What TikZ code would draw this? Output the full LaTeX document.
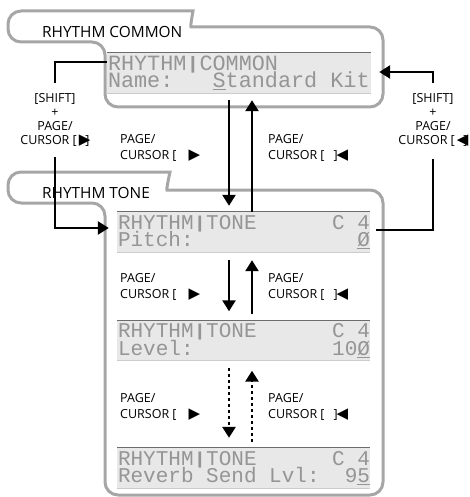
\documentclass[tikz,border=0pt]{standalone}
\usepackage{fontspec}
\setmainfont{Open Sans}
\newfontfamily\lcdfont{Liberation Mono}
\newfontfamily\symfont{DejaVu Sans}
\usetikzlibrary{arrows.meta}

\definecolor{grpgray}{HTML}{A6A6A6}
\definecolor{lcdfill}{HTML}{E8E8E8}
\definecolor{lcdtext}{HTML}{959595}

\newcommand{\lcdbar}{\makebox[0.6em]{\symfont\scalebox{0.35}[1.0]{▮}}}
\newcommand{\rtri}{{\symfont\fontsize{15}{15}\selectfont ▶}}
\newcommand{\ltri}{{\symfont\fontsize{15}{15}\selectfont ◀}}

\tikzset{
  grp/.style={draw=grpgray, line width=3pt, rounded corners=13pt},
  lcd/.style={fill=lcdfill, inner sep=0pt, minimum width=253pt, minimum height=40pt},
  lcdline/.style={anchor=base west, inner sep=0pt, text=lcdtext, font=\lcdfont\fontsize{21}{21}\selectfont},
  tab/.style={anchor=base west, inner sep=0pt, font=\fontsize{15.4}{18}\selectfont},
  key/.style={inner sep=0pt, align=center, anchor=north, font=\fontsize{12.5}{14.2}\selectfont},
  keyl/.style={inner sep=0pt, align=left, anchor=north west, font=\fontsize{12.5}{16}\selectfont},
  arr/.style={line width=2.5pt, -{Triangle[width=13pt,length=11pt]}},
  link/.style={line width=2.5pt},
  dots/.style={dash pattern=on 3pt off 3pt, line width=2.8pt},
}

\begin{document}
\begin{tikzpicture}[x=1pt, y=-1pt]
\useasboundingbox (0,0) rectangle (470,497);

% the two groups
\draw[grp] (105,70) -- (105,42) -- (8,42) -- (8,11) -- (180,11) .. controls (193,11) and (190,27) .. (204,27) -- (383,27) -- (383,107) -- (105,107) -- cycle;
\draw[grp] (105,260) -- (105,203) -- (8,203) -- (8,172) -- (157,172) .. controls (170,172) and (166,190) .. (180,190) -- (383,190) -- (383,495) -- (105,495) -- cycle;
\node[tab] (tabc) at (42,38) {RHYTHM COMMON};
\node[tab] (tabt) at (42,198) {RHYTHM TONE};

% displays
\node[lcd, minimum width=264pt] (c1) at (239,73) {};
\node[lcd] (t1) at (243.5,232) {};
\node[lcd] (t2) at (243.5,340.5) {};
\node[lcd] (t3) at (243.5,468) {};
\foreach \c in {c1,t1,t2,t3} {
  \draw[gray!85!black, line width=0.8pt] (\c.north west) -- (\c.north east);
  \draw[gray!40, line width=0.8pt] (\c.south west) -- (\c.south east);
}
\node[lcdline, font=\lcdfont\fontsize{21.8}{21.8}\selectfont] (c1a) at ([shift={(1,17.5)}]c1.north west) {RHYTHM\lcdbar COMMON};
\node[lcdline, font=\lcdfont\fontsize{21.8}{21.8}\selectfont] (c1b) at ([shift={(1,35)}]c1.north west) {Name:~~~\underline{S}tandard~Kit};
\node[lcdline] (t1a) at ([shift={(1,17.5)}]t1.north west) {RHYTHM\lcdbar TONE~~~~~~C~4};
\node[lcdline] (t1b) at ([shift={(1,35)}]t1.north west) {Pitch:~~~~~~~~~~~~~\underline{Ø}};
\node[lcdline] (t2a) at ([shift={(1,17.5)}]t2.north west) {RHYTHM\lcdbar TONE~~~~~~C~4};
\node[lcdline] (t2b) at ([shift={(1,35)}]t2.north west) {Level:~~~~~~~~~~~10\underline{Ø}};
\node[lcdline] (t3a) at ([shift={(1,17.5)}]t3.north west) {RHYTHM\lcdbar TONE~~~~~~C~4};
\node[lcdline] (t3b) at ([shift={(1,35)}]t3.north west) {Reverb~Send~Lvl:~~9\underline{5}};

% key labels
\node[key] (shl) at (55,93) {[SHIFT]\\+\\PAGE/\\CURSOR [\,\rtri\kern-5pt]};
\node[key] (shr) at (433,93) {[SHIFT]\\+\\PAGE/\\CURSOR [\,\ltri\kern-5pt]};
\node[keyl] (p1l) at (120,134.5) {PAGE/\\CURSOR [\hspace{12pt}\rtri};
\node[keyl] (p1r) at (268,134.5) {PAGE/\\CURSOR [\hspace{9pt}]\kern-1pt\ltri};
\node[keyl] (p2l) at (120,273) {PAGE/\\CURSOR [\hspace{12pt}\rtri};
\node[keyl] (p2r) at (268,273) {PAGE/\\CURSOR [\hspace{9pt}]\kern-1pt\ltri};
\node[keyl] (p3l) at (120,393) {PAGE/\\CURSOR [\hspace{12pt}\rtri};
\node[keyl] (p3r) at (268,393) {PAGE/\\CURSOR [\hspace{9pt}]\kern-1pt\ltri};

% page arrows
\coordinate (dn) at (229,0);
\coordinate (up) at (252,0);
\draw[arr, shorten <=7pt, shorten >=6pt] (c1.south -| dn) -- (t1.north -| dn);
\draw[arr, shorten >=7pt] (t1.north -| up) -- (c1.south -| up);
\draw[arr, shorten <=8pt, shorten >=9pt] (t1.south -| dn) -- (t2.north -| dn);
\draw[arr, shorten <=6pt, shorten >=8pt] (t2.north -| up) -- (t1.south -| up);
\draw[arr, dots, shorten <=7pt, shorten >=10pt] (t2.south -| dn) -- (t3.north -| dn);
\draw[arr, dots, shorten <=6pt, shorten >=10pt] (t3.north -| up) -- (t2.south -| up);

% shift links
\draw[link] ([shift={(0,-11)}]c1.west) -| ([shift={(0,-10)}]shl.north);
\draw[arr] ([shift={(0,10)}]shl.south) |- ([shift={(-8,-4)}]t1.west);
\draw[link] ([shift={(6,-2)}]t1.east) -| ([shift={(0,12)}]shr.south);
\draw[arr] ([shift={(0,-10)}]shr.north) |- ([shift={(8,-1)}]c1.east);
\end{tikzpicture}
\end{document}
